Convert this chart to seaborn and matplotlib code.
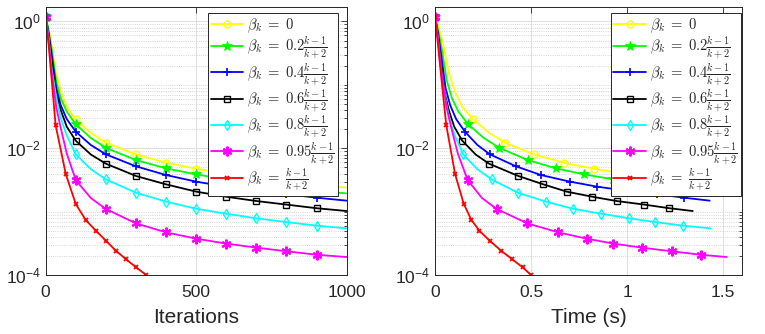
import numpy as np
import pandas as pd
import matplotlib
matplotlib.use('Agg')
import matplotlib.pyplot as plt
import seaborn as sns
from matplotlib.ticker import FixedLocator, LogLocator, NullFormatter

# ---------------- data ----------------
iters = [0, 10, 20, 35, 50, 70, 100, 150, 200, 300, 400, 500, 600, 700, 800, 900, 1000]
iters_red = [0, 10, 20, 33, 67, 100, 133, 167, 200, 233, 267, 300, 333]

err_b0 = [1.18, 0.75, 0.42, 0.15, 0.08, 0.045, 0.0286, 0.0175, 0.0123, 0.00805, 0.00594,
          0.00478, 0.0040, 0.00345, 0.00306, 0.00271, 0.0024]
err_b02 = [1.18, 0.70, 0.36, 0.115, 0.062, 0.038, 0.0239, 0.0146, 0.0102, 0.00655, 0.00484,
           0.00389, 0.00325, 0.00278, 0.0024, 0.00213, 0.00195]
err_b04 = [1.18, 0.65, 0.30, 0.09, 0.048, 0.029, 0.0183, 0.0113, 0.00805, 0.00521, 0.0038,
           0.00299, 0.00249, 0.00215, 0.0019, 0.00167, 0.0015]
err_b06 = [1.18, 0.60, 0.24, 0.075, 0.040, 0.022, 0.0132, 0.0080, 0.00574, 0.00367, 0.00271,
           0.00208, 0.00173, 0.00148, 0.0013, 0.00114, 0.00103]
err_b08 = [1.18, 0.55, 0.18, 0.065, 0.030, 0.016, 0.00805, 0.0047, 0.00325, 0.0020, 0.00145,
           0.00112, 0.000935, 0.00079, 0.00069, 0.000606, 0.00055]
err_b095 = [1.18, 0.50, 0.16, 0.045, 0.021, 0.0083, 0.00317, 0.00165, 0.00111, 0.000659,
            0.000475, 0.000378, 0.000316, 0.000273, 0.000239, 0.000211, 0.000194]
err_b1 = [1.18, 0.42, 0.12, 0.0233, 0.0039, 0.00133, 0.000743, 0.000505, 0.000351,
          0.000245, 0.000179, 0.000134, 0.000102]

time_b0 = [0, 0.022, 0.044, 0.074, 0.103, 0.142, 0.200, 0.283, 0.365, 0.516, 0.672, 0.826,
           0.981, 1.123, 1.271, 1.438, 1.61]
time_b02 = [0, 0.018, 0.036, 0.062, 0.088, 0.122, 0.173, 0.254, 0.335, 0.483, 0.630, 0.778,
            0.929, 1.076, 1.215, 1.359, 1.516]
time_b04 = [0, 0.016, 0.032, 0.055, 0.079, 0.110, 0.156, 0.221, 0.286, 0.422, 0.552, 0.703,
            0.845, 0.998, 1.155, 1.297, 1.43]
time_b06 = [0, 0.015, 0.029, 0.050, 0.072, 0.100, 0.142, 0.212, 0.281, 0.434, 0.564, 0.686,
            0.819, 0.946, 1.090, 1.220, 1.342]
time_b08 = [0, 0.015, 0.030, 0.052, 0.074, 0.103, 0.147, 0.221, 0.295, 0.432, 0.578, 0.718,
            0.866, 1.010, 1.148, 1.291, 1.434]
time_b095 = [0, 0.017, 0.034, 0.060, 0.085, 0.119, 0.170, 0.245, 0.321, 0.481, 0.642, 0.790,
             0.929, 1.076, 1.233, 1.384, 1.519]
time_b1 = [0, 0.016, 0.034, 0.0587, 0.105, 0.150, 0.190, 0.231, 0.285, 0.344, 0.402, 0.456,
           0.499]

labels = [r'$\beta_k\;=\;0$',
          r'$\beta_k\;=\;0.2\frac{k-1}{k+2}$',
          r'$\beta_k\;=\;0.4\frac{k-1}{k+2}$',
          r'$\beta_k\;=\;0.6\frac{k-1}{k+2}$',
          r'$\beta_k\;=\;0.8\frac{k-1}{k+2}$',
          r'$\beta_k\;=\;0.95\frac{k-1}{k+2}$',
          r'$\beta_k\;=\;\frac{k-1}{k+2}$']

x_ticks_iter = [0, 500, 1000]
x_ticklabels_iter = ['0', '500', '1000']
x_ticks_time = [0, 0.5, 1, 1.5]
x_ticklabels_time = ['0', '0.5', '1', '1.5']

# ---------------- styles ----------------
colors = [(1, 1, 0), (0, 1, 0), (0, 0, 1), (0, 0, 0), (0, 1, 1), (1, 0, 1), (1, 0, 0)]
styles = [
    dict(marker='o', markersize=5, markerfacecolor='none', markeredgewidth=1.0),
    dict(marker='*', markersize=7.5, markeredgewidth=0.6),
    dict(marker='+', markersize=5.5, markeredgewidth=1.2),
    dict(marker='s', markersize=4.2, markerfacecolor='none', markeredgewidth=1.0),
    dict(marker='d', markersize=5.5, markerfacecolor='none', markeredgewidth=1.0),
    dict(marker=(6, 2, 0), markersize=7, markeredgewidth=1.5),
    dict(marker='x', markersize=3.5, markeredgewidth=1.3),
]
mark_main = [0, 6, 8, 9, 10, 11, 12, 13, 14, 15]
mark_red = [0, 3, 4, 5, 6, 7, 8, 9, 10, 11, 12]

sns.set_theme(style='white')
plt.rcParams['font.family'] = ['Liberation Sans', 'DejaVu Sans']
plt.rcParams['mathtext.fontset'] = 'cm'

fig = plt.figure(figsize=(7.65, 3.34), dpi=100)
axL = fig.add_axes([0.0597, 0.1757, 0.3935, 0.804])
axR = fig.add_axes([0.5686, 0.1757, 0.4017, 0.804])

errs = [err_b0, err_b02, err_b04, err_b06, err_b08, err_b095, err_b1]
times = [time_b0, time_b02, time_b04, time_b06, time_b08, time_b095, time_b1]

for ax, xs_list in [(axL, None), (axR, times)]:
    for i in range(7):
        if xs_list is None:
            xs = iters_red if i == 6 else iters
        else:
            xs = xs_list[i]
        me = mark_red if i == 6 else mark_main
        df = pd.DataFrame({'x': xs, 'y': errs[i]})
        sty = dict(styles[i])
        sty.setdefault('markerfacecolor', colors[i])
        sns.lineplot(data=df, x='x', y='y', ax=ax, color=colors[i], linewidth=1.3,
                     markeredgecolor=colors[i], markevery=me, label=labels[i],
                     sort=False, estimator=None, **sty)

for ax in (axL, axR):
    ax.set_yscale('log')
    ax.set_ylim(1e-4, 1.7)
    ax.yaxis.set_major_locator(FixedLocator([1e-4, 1e-2, 1]))
    ax.yaxis.set_minor_locator(LogLocator(base=10, subs=np.arange(1, 10), numticks=20))
    ax.yaxis.set_minor_formatter(NullFormatter())
    ax.set_ylabel('')
    ax.grid(which='major', color='0.87', linestyle='-', linewidth=0.7)
    ax.grid(which='minor', axis='y', color='0.78', linestyle=':', linewidth=0.6)
    ax.tick_params(which='both', direction='in', top=True, right=True, colors='0.15',
                   labelcolor='0.15', labelsize=12.5, length=4, width=0.6)
    ax.tick_params(axis='x', pad=7)
    ax.tick_params(which='minor', length=2)
    for s in ax.spines.values():
        s.set_color('0.15')
        s.set_linewidth(0.7)
    ax.set_axisbelow(True)

axL.set_xlim(0, 1000)
axL.set_xticks(x_ticks_iter)
axL.set_xticklabels(x_ticklabels_iter)
axL.set_xlabel('Iterations', fontsize=15, color='0.15', labelpad=6)
axR.set_xlim(0, 1.6)
axR.set_xticks(x_ticks_time)
axR.set_xticklabels(x_ticklabels_time)
axR.set_xlabel('Time (s)', fontsize=15, color='0.15', labelpad=6)

for ax, anchor in [(axL, (0.972, 0.975)), (axR, (0.995, 0.975))]:
    leg = ax.legend(loc='upper right', bbox_to_anchor=anchor, fontsize=10.5,
                    handlelength=2.2, handletextpad=0.3, labelspacing=0.0,
                    borderpad=0.2, borderaxespad=0, frameon=True, fancybox=False,
                    framealpha=1, edgecolor='0.15')
    leg.get_frame().set_linewidth(0.7)

fig.savefig('out.png', dpi=100)
